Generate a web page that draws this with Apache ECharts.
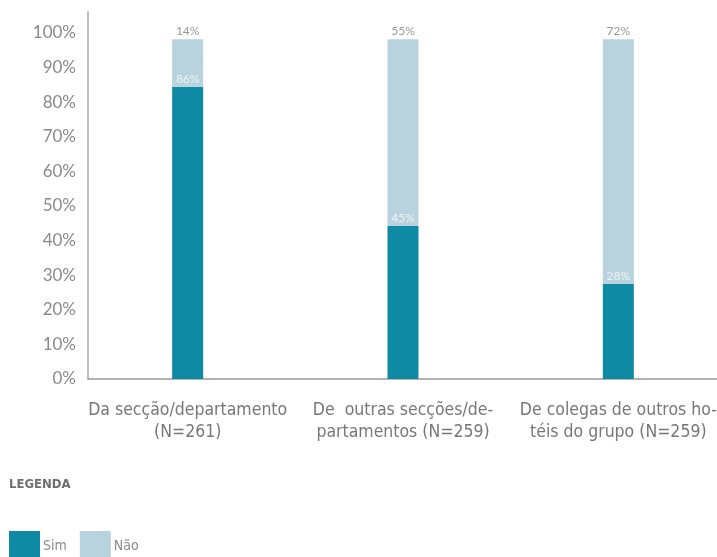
<!DOCTYPE html>
<html>
<head>
<meta charset="utf-8">
<style>
  html, body { margin: 0; padding: 0; background: #ffffff; }
  #chart { width: 717px; height: 557px; }
</style>
<script src="https://cdn.jsdelivr.net/npm/echarts@6/dist/echarts.min.js"></script>
</head>
<body>
<div id="chart"></div>
<script>
// Categories and the share of answers per category (percent)
const categories = [
  'Da secção/departamento\n(N=261)',
  'De  outras secções/de-\npartamentos (N=259)',
  'De colegas de outros ho-\ntéis do grupo (N=259)'
];
const simValues = [86, 45, 28];
const naoValues = [14, 55, 72];
const seriesNames = ['Sim', 'Não'];
const yTickLabels = [0, 10, 20, 30, 40, 50, 60, 70, 80, 90, 100];

const SIM_COLOR = '#0f8aa5';
const NAO_COLOR = '#b9d3de';
const condensed = '"Liberation Sans Narrow", "DejaVu Sans Condensed", "Roboto", sans-serif';

const chart = echarts.init(document.getElementById('chart'));

chart.setOption({
  backgroundColor: '#ffffff',
  animation: false,
  title: {
    text: 'LEGENDA',
    left: 9,
    top: 478,
    padding: 0,
    textStyle: { fontFamily: condensed, fontSize: 13, fontWeight: 'bold', color: '#6f6f6f' }
  },
  legend: {
    data: seriesNames,
    left: 9,
    top: 531,
    padding: 0,
    itemWidth: 31,
    itemHeight: 30,
    itemGap: 13,
    icon: 'rect',
    textStyle: { fontFamily: condensed, fontSize: 14, color: '#8a8a8a', padding: [12, 0, 0, -2] }
  },
  grid: [
    // frame grid: carries the visible axis lines and the percentage scale
    { left: 88, right: 0, top: 12, bottom: 178, outerBoundsMode: 'none' },
    // bar grid
    { left: 80, width: 646, top: 12, bottom: 178, outerBoundsMode: 'none' }
  ],
  xAxis: [
    {
      type: 'value', gridIndex: 0, min: 0, max: 1,
      axisLine: { show: true, lineStyle: { color: '#9a9a9a', width: 1.5 } },
      axisTick: { show: false }, axisLabel: { show: false }, splitLine: { show: false }
    },
    {
      type: 'category', gridIndex: 1, data: categories,
      axisLine: { show: false }, axisTick: { show: false }, splitLine: { show: false },
      axisLabel: {
        interval: 0, margin: 20, lineHeight: 22,
        fontFamily: condensed, fontSize: 17.5, color: '#777777'
      }
    }
  ],
  yAxis: [
    {
      type: 'value', gridIndex: 0, min: 0, max: 106, interval: 10,
      axisLine: { show: true, lineStyle: { color: '#a8a8a8', width: 1.5 } },
      axisTick: { show: false }, splitLine: { show: false },
      axisLabel: {
        margin: 12,
        fontFamily: 'Lato, sans-serif', fontSize: 17, color: '#8a8a8a',
        padding: [0, 0, 4, 0],
        formatter: v => yTickLabels.includes(v) ? v + '%' : ''
      }
    },
    {
      type: 'value', gridIndex: 1, min: 0, max: 108, show: false
    }
  ],
  series: [
    {
      name: seriesNames[0], type: 'bar', stack: 'total',
      xAxisIndex: 1, yAxisIndex: 1, barWidth: 31,
      data: simValues,
      itemStyle: { color: SIM_COLOR },
      label: {
        show: true, position: 'top', distance: 2,
        formatter: '{c}%', fontFamily: 'Lato, sans-serif', fontSize: 12, color: '#eef3f6'
      }
    },
    {
      name: seriesNames[1], type: 'bar', stack: 'total',
      xAxisIndex: 1, yAxisIndex: 1, barWidth: 31,
      data: naoValues,
      itemStyle: { color: NAO_COLOR },
      label: {
        show: true, position: 'top', distance: 2,
        formatter: '{c}%', fontFamily: 'Lato, sans-serif', fontSize: 12, color: '#999999'
      }
    }
  ]
});
</script>
</body>
</html>
